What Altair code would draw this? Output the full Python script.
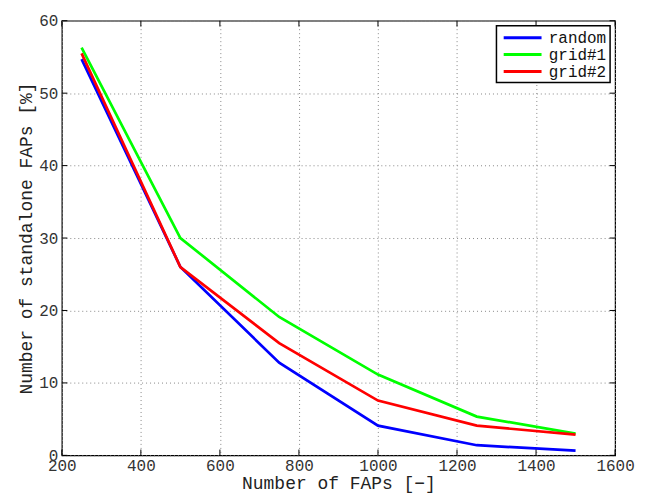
import altair as alt
import pandas as pd

# ---- data ----
n_faps = [250, 500, 750, 1000, 1250, 1500]
random_vals = [54.7, 26.0, 12.8, 4.1, 1.4, 0.65]
grid1_vals = [56.3, 30.0, 19.1, 11.15, 5.35, 3.0]
grid2_vals = [55.5, 26.0, 15.5, 7.56, 4.1, 2.86]
series_names = ["random", "grid#1", "grid#2"]
series_colors = ["#0000ff", "#00ff00", "#ff0000"]
x_ticks = [200, 400, 600, 800, 1000, 1200, 1400, 1600]
y_ticks = [0, 10, 20, 30, 40, 50, 60]

rows = []
for name, vals in zip(series_names, [random_vals, grid1_vals, grid2_vals]):
    for x, v in zip(n_faps, vals):
        rows.append({"faps": x, "pct": v, "series": name})
df = pd.DataFrame(rows)
xt = pd.DataFrame({"v": x_ticks})
yt = pd.DataFrame({"v": y_ticks})

FONT = "Liberation Mono"
W, H = 555, 436

xscale = alt.Scale(domain=[200, 1600], nice=False, zero=False)
yscale = alt.Scale(domain=[0, 60], nice=False)

xaxis = alt.Axis(values=x_ticks, format="d", title="Number of FAPs [\u2212]", tickSize=0, domain=False,
                 grid=True, gridColor="#888888", gridDash=[1, 3], gridWidth=1,
                 labelFont=FONT, labelFontSize=16, labelColor="#333333", labelPadding=2,
                 titleFont=FONT, titleFontSize=18, titleFontWeight="normal", titleColor="#222222",
                 titlePadding=1, labelFlush=False)
yaxis = alt.Axis(values=y_ticks, format="d", title="Number of standalone FAPs [%]", tickSize=0, domain=False,
                 grid=True, gridColor="#888888", gridDash=[1, 3], gridWidth=1,
                 labelFont=FONT, labelFontSize=16, labelColor="#333333", labelPadding=4,
                 titleFont=FONT, titleFontSize=18, titleFontWeight="normal", titleColor="#222222",
                 titlePadding=3, labelFlush=False)

lines = alt.Chart(df).mark_line(strokeWidth=2.7, clip=True).encode(
    x=alt.X("faps:Q", scale=xscale, axis=xaxis),
    y=alt.Y("pct:Q", scale=yscale, axis=yaxis),
    color=alt.Color("series:N",
                    scale=alt.Scale(domain=series_names, range=series_colors),
                    sort=series_names,
                    legend=alt.Legend(title=None, orient="top-right", offset=5,
                                      symbolType="M-0.655,0L4.586,0", symbolSize=210,
                                      symbolStrokeWidth=3, symbolFillColor="transparent",
                                      labelFont=FONT, labelFontSize=16, labelColor="#111111",
                                      labelOffset=31.5, padding=3, rowPadding=0,
                                      strokeColor="black", fillColor="white",
                                      cornerRadius=0)),
)

tick_len_y = 0.8
tick_len_x = 14
bottom_ticks = alt.Chart(xt).mark_rule(color="black", strokeWidth=1).encode(
    x="v:Q", y=alt.datum(0), y2=alt.datum(tick_len_y))
top_ticks = alt.Chart(xt).mark_rule(color="black", strokeWidth=1).encode(
    x="v:Q", y=alt.datum(60), y2=alt.datum(60 - tick_len_y))
left_ticks = alt.Chart(yt).mark_rule(color="black", strokeWidth=1).encode(
    y="v:Q", x=alt.datum(200), x2=alt.datum(200 + tick_len_x))
right_ticks = alt.Chart(yt).mark_rule(color="black", strokeWidth=1).encode(
    y="v:Q", x=alt.datum(1600), x2=alt.datum(1600 - tick_len_x))

chart = alt.layer(lines, bottom_ticks, top_ticks, left_ticks, right_ticks).properties(
    width=W, height=H,
    autosize=alt.AutoSizeParams(type="none"),
    padding={"left": 54, "top": 12, "right": 25, "bottom": 37},
).configure_view(stroke="black", strokeWidth=1.2).configure_legend(strokeWidth=1.5)

chart.save("out.html", embed_options={"renderer": "svg", "actions": False})
